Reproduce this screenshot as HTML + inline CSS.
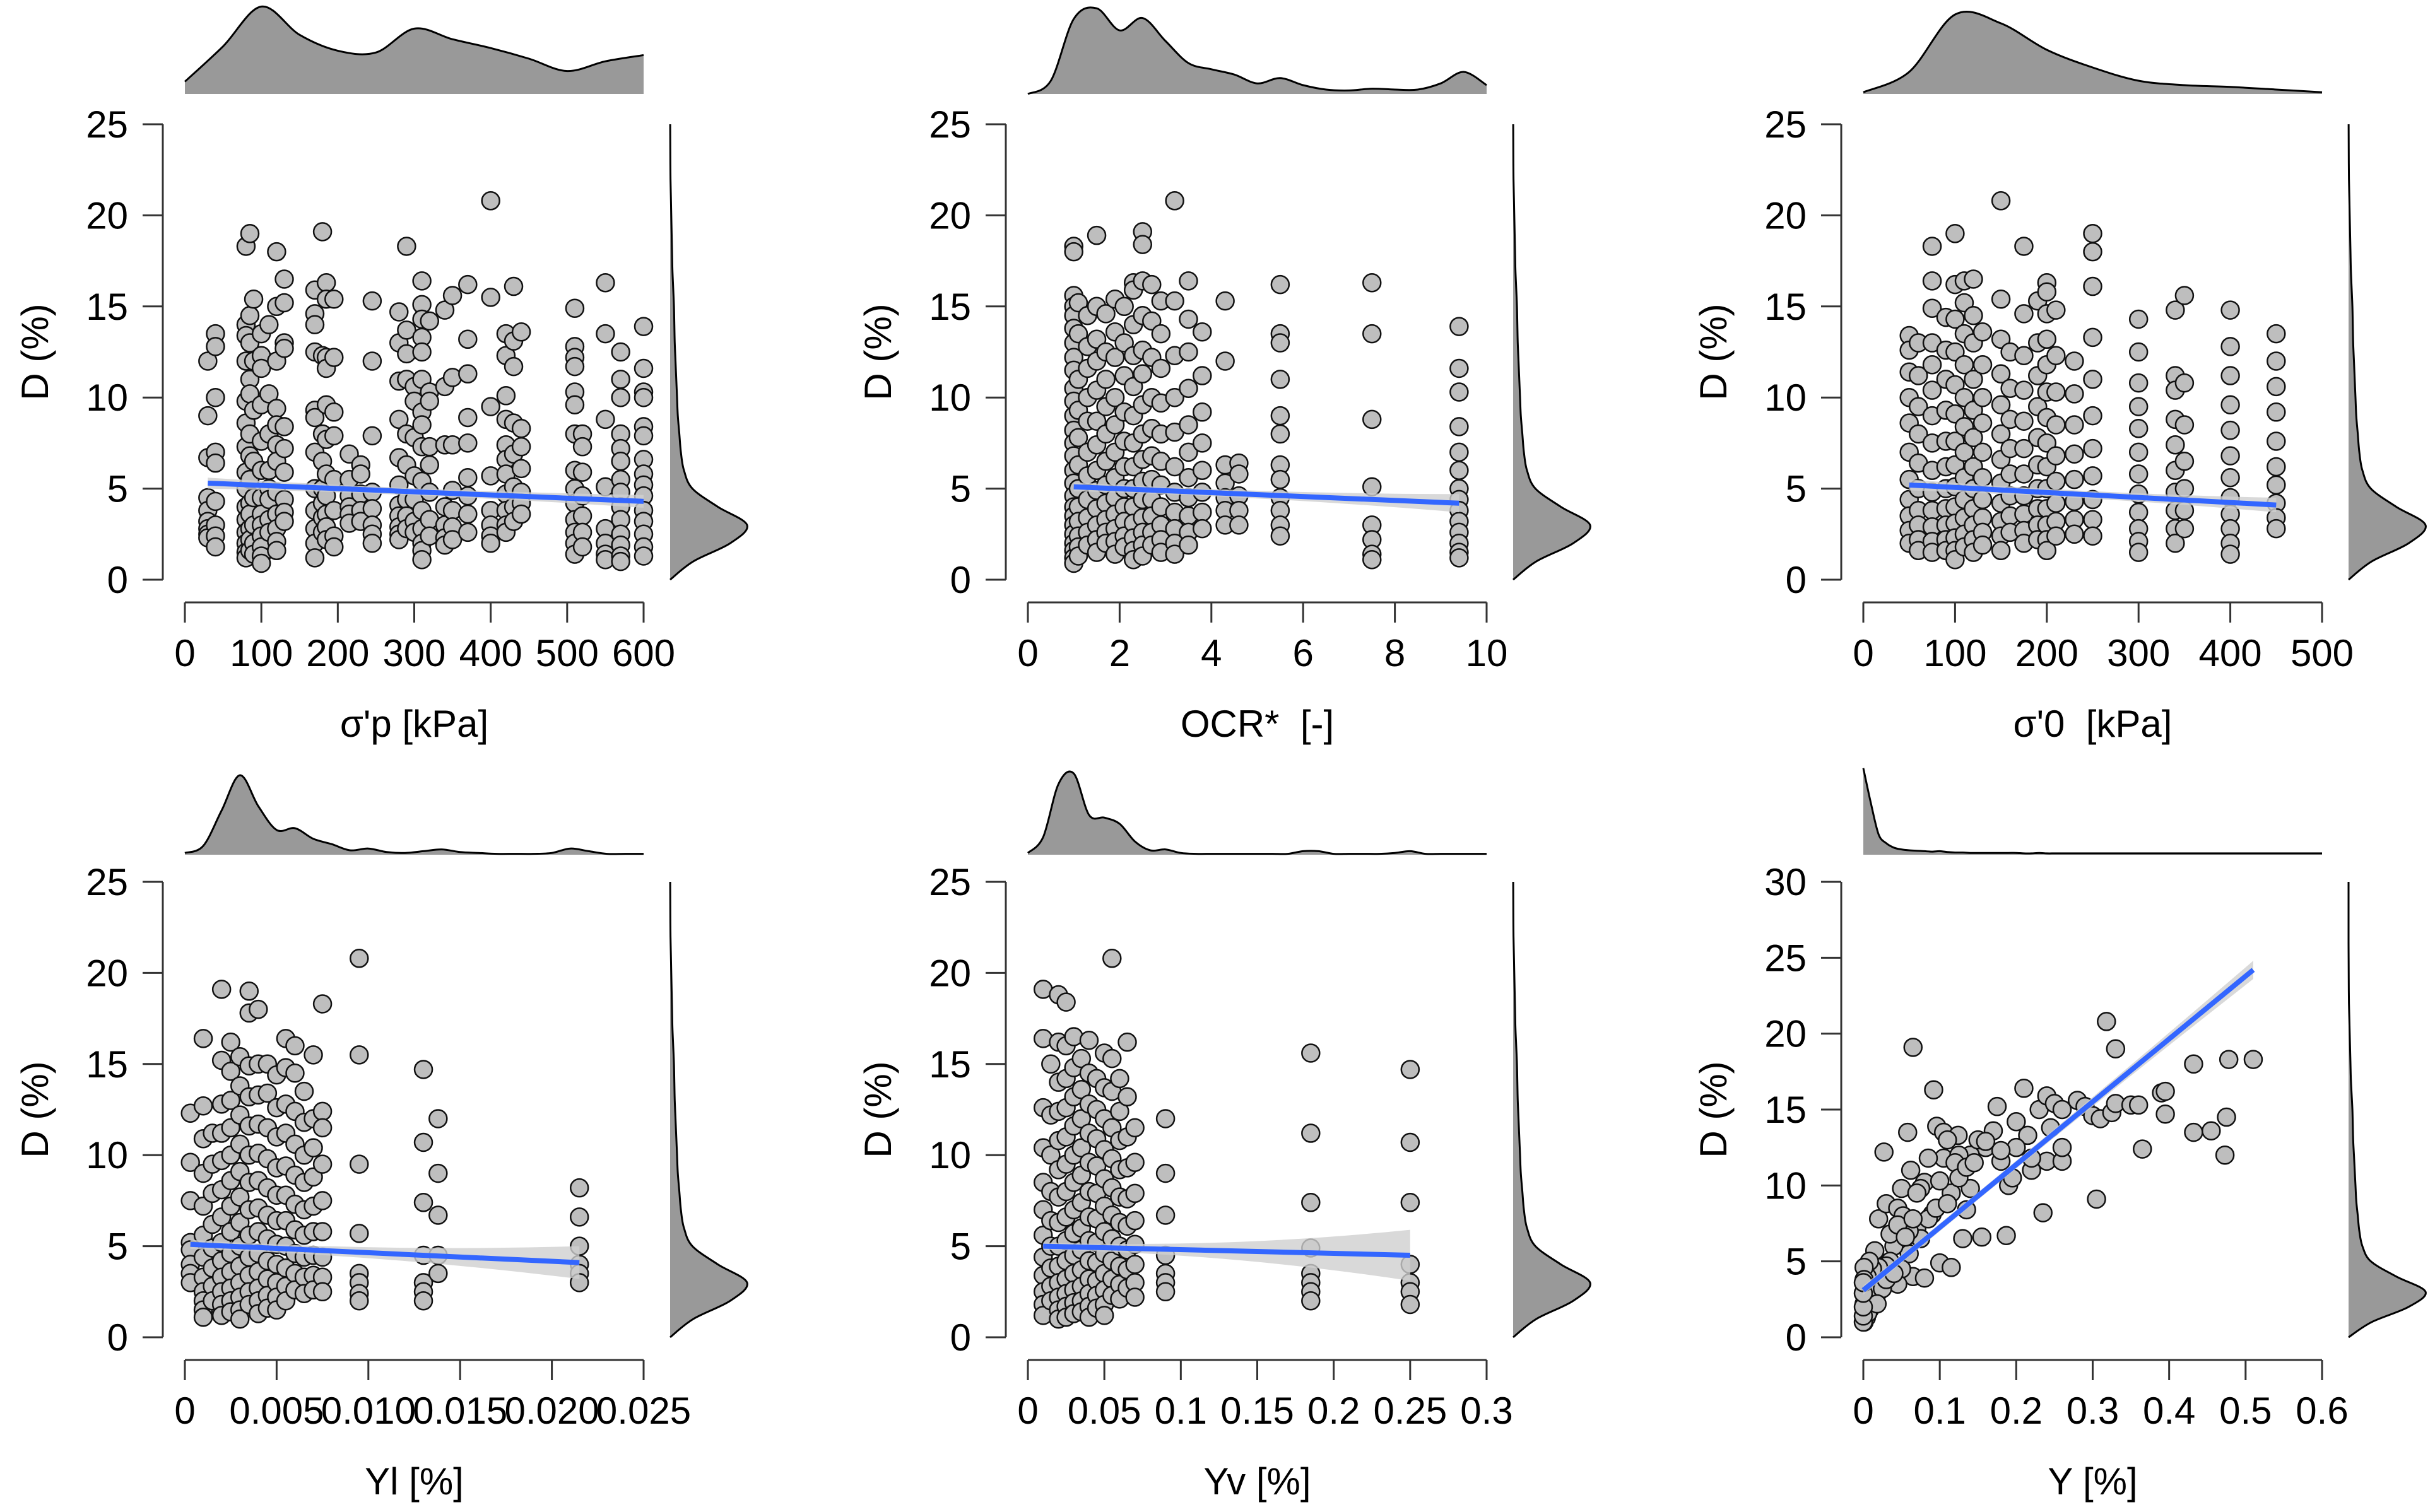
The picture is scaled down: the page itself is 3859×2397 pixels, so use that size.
<!DOCTYPE html>
<html><head><meta charset="utf-8"><title>Marginal density scatter plots</title>
<style>html,body{margin:0;padding:0;background:#fff;}svg{display:block;font-family:"Liberation Sans",Arial,sans-serif;}</style>
</head><body>
<svg id="chart" xmlns="http://www.w3.org/2000/svg" width="3859" height="2397" viewBox="0 0 3859 2397">
<rect width="3859" height="2397" fill="#fff"/>
</svg>
<script>
// ---------- DATA ----------
const p1X = [30,40,80,85,90,100,110,120,130,170,180,185,195,215,230,245,280,290,300,310,320,340,350,370,400,420,430,440,510,520,550,570,600];
const p1D = [[12,9,6.7,4.5,3.8,3.2,2.8,2.5,2.3],[13.5,12.8,10,7,6.4,4.3,3,2.4,1.8],[18.3,14,13.4,12,9.8,8.6,7.3,5.9,5,4,3.3,2.6,2,1.5,1.2],[19,14.5,13,11,10.2,8,6.8,5.5,4.2,3.6,2.8,2.2,1.6],[15.4,12,9.3,6.5,4.5,3,2,1.4],[13.5,12.3,11.6,9.6,7.6,6,4.5,3.6,3,2.4,1.8,1.3,0.9],[14,10.2,8,6,5,4.4,3.3,2.6],[18,15,12,9.4,8.5,7.4,6.5,4.8,3.6,2.8,2.1,1.6],[16.5,15.2,13,12.7,8.4,7.2,5.9,4.4,3.7,3.2],[15.9,14.6,14,12.5,9.3,8.9,7,5,3.8,2.8,2,1.2],[19.1,12.3,8,6.5,5,4.2,3.4,2.6],[16.3,15.4,12.2,11.6,9.6,7.7,5.8,4.6,3.6,2.9,2.2],[15.4,12.2,9.2,7.9,5.5,3.8,2.4,1.8],[6.9,5.5,4.6,4,3.6,3.1],[6.3,5.8,4.7,3.8,3.2],[15.3,12,7.9,4.8,3.9,3,2.5,2],[14.7,13,10.9,8.8,6.7,5.2,4.1,3.5,2.9,2.5,2.2],[18.3,13.7,12.4,11,8,6.3,4.4,3.5,2.8],[10.6,9.8,7.8,5.7,4.4,3.2,2.6],[16.4,15.1,14.3,13.3,12.5,11,9.2,8.5,7.3,5.4,3.8,2.8,2,1.6,1.1],[14.2,10.3,9.8,7.3,6.3,4.8,3.3,2.4],[14.8,10.6,7.4,4,3,2.3,1.9],[15.6,11.1,7.4,4.9,3.8,2.9,2.2],[16.2,13.2,11.3,8.9,7.5,5.6,4.6,3.6,2.6],[20.8,15.5,9.5,5.7,3.8,3,2.4,2],[13.5,12.3,10.1,8.8,7.4,6.6,5.8,4.7,3.8,3,2.6],[16.1,13.1,11.7,8.6,6.9,5.1,4,3.2],[13.6,8.3,7.3,6.1,4.8,4.2,3.6],[14.9,12.8,12.2,11.7,10.3,9.6,8,6,5,4.2,3.3,2.6,2,1.4],[8,7.3,5.9,4.6,3.5,2.6,1.8],[16.3,13.5,8.8,5.1,2.8,2,1.4,1.1],[12.5,11,10,8,7.2,6.5,5.5,4.8,4,3.3,2.5,1.9,1.3,1],[13.9,11.6,10.3,10,8.4,7.9,6.6,5.8,5.2,4.6,3.8,3.2,2.5,1.8,1.3]];

const p2X = [1.0,1.1,1.3,1.5,1.7,1.9,2.1,2.3,2.5,2.7,2.9,3.2,3.5,3.8,4.3,4.6,5.5,7.5,9.4];
const p2D = [[18.3,18,15.6,15,14.5,13.8,13,12.2,11.5,10.5,9.8,9,8.2,7.5,6.8,6,5.3,4.6,4,3.5,3,2.5,2,1.6,1.2,0.9],[15.2,13.5,11,9.3,7.8,6.3,5,4,3.2,2.4,1.8,1.3],[14.5,12.8,11.6,10,8.7,7,5.7,4.4,3.4,2.6,1.9],[18.9,15,13.2,12,10.4,8.7,7.4,6,4.9,3.9,3,2.2,1.5],[14.6,12.5,11,9.5,8,6.5,5.2,4.2,3.3,2.6,2],[15.4,13.6,12.2,10,8.5,7,5.6,4.5,3.6,2.8,2.1,1.4],[15,13,11.2,9.2,7.6,6.2,5,4,3.2,2.4,1.8],[16.3,15.9,14,12.3,10.6,9,7.5,6.2,5,4,3.1,2.3,1.6,1.1],[19.1,18.4,16.4,14.5,12.6,11.3,9.6,8,6.6,5.4,4.4,3.4,2.6,1.9,1.3],[16.2,14.2,12.2,10,8.3,6.8,5.5,4.4,3.5,2.6,1.9],[15.3,13.5,11.6,9.7,8,6.5,5.2,4,3,2.2,1.5],[20.8,15.3,12.3,10,8.1,6.2,4.8,3.7,2.8,2,1.4],[16.4,14.3,12.5,10.5,8.5,7,5.6,4.5,3.5,2.6,1.9],[13.6,11.2,9.2,7.5,6,4.8,3.7,2.8],[15.3,12,6.3,5.3,4.5,3.8,3],[6.4,5.8,4.6,3.8,3],[16.2,13.5,13,11,9,8,6.3,5.5,4.5,3.8,3,2.4],[16.3,13.5,8.8,5.1,3,2.2,1.4,1.1],[13.9,11.6,10.3,8.4,7,6,5,4.4,3.8,3.2,2.6,2,1.5,1.2]];

const p3X = [50,60,75,90,100,110,120,130,150,160,175,190,200,210,230,250,300,340,350,400,450];
const p3D = [[13.4,12.6,11.4,10,8.6,7,5.5,4.4,3.5,2.7,2],[13,11.2,9.5,8,6.4,5,3.8,3,2.2,1.6],[18.3,16.4,14.9,13,11.8,10.4,9,7.5,6,4.8,3.8,2.9,2.1,1.5],[14.4,12.6,11,9.3,7.6,6.2,5,3.9,3,2.2,1.6],[19,16.2,14.3,12.5,10.7,9.1,7.6,6.3,5.1,4,3.1,2.3,1.6,1.1],[16.4,15.2,13.5,11.8,10,8.4,7,5.6,4.4,3.4,2.5,1.8],[16.5,14.5,13,11,9.3,7.8,6.2,5,3.9,3,2.2,1.5],[13.6,11.8,10,8.6,7,5.6,4.4,3.4,2.6,1.9],[20.8,15.4,13.2,11.3,9.6,8,6.6,5.3,4.2,3.2,2.4,1.6],[12.5,10.5,8.8,7.2,5.8,4.6,3.5,2.6],[18.3,14.6,12.3,10.4,8.7,7.2,5.8,4.6,3.6,2.7,2],[15.3,13,11.2,9.5,7.8,6.3,5,3.9,3,2.2],[16.3,15.8,14.6,13.2,11.8,10.3,8.9,7.5,6.2,5,3.9,3,2.2,1.6],[14.8,12.3,10.3,8.5,6.8,5.4,4.2,3.2,2.4],[12,10.2,8.5,6.9,5.5,4.3,3.3,2.5],[19,18,16.1,13.3,11,9,7.2,5.7,4.4,3.3,2.4],[14.3,12.5,10.8,9.5,8.3,7,5.8,4.7,3.7,2.8,2.1,1.5],[14.8,11.2,10.4,8.8,7.4,6,4.8,3.8,2.8,2],[15.6,10.8,8.5,6.5,5,3.8,2.8],[14.8,12.8,11.2,9.6,8.2,6.8,5.6,4.5,3.6,2.8,2,1.4],[13.5,12,10.6,9.2,7.6,6.2,5.2,4.2,3.4,2.8]];

const p4X = [0.0003,0.001,0.0015,0.002,0.0025,0.003,0.0035,0.004,0.0045,0.005,0.0055,0.006,0.0065,0.007,0.0075,0.0095,0.013,0.0138,0.0215];
const p4D = [[12.3,9.6,7.5,5.2,4.8,4,3.5,3],[16.4,12.7,10.9,9,7.2,5.6,4.4,3.3,2.5,2,1.5,1.1],[11.2,9.5,7.9,6.2,4.9,3.8,2.8,2],[19.1,15.2,12.8,11.2,9.7,8.1,6.6,5.2,4.2,3.3,2.5,1.8,1.2],[16.2,14.6,13,11.5,10,8.6,7.2,5.8,4.6,3.6,2.7,2,1.4],[15.4,13.8,12.2,10.6,9.1,7.7,6.3,5,3.9,3,2.2,1.5,1],[19,17.8,14.9,13.2,11.6,10,8.5,7,5.6,4.4,3.4,2.5,1.8],[18,15,13.3,11.7,10.1,8.6,7.1,5.8,4.6,3.6,2.7,2,1.3],[15,13.4,11.5,9.8,8.2,6.7,5.4,4.2,3.2,2.3,1.6],[14.4,12.6,11,9.3,7.8,6.4,5.1,4,3,2.2,1.5],[16.4,14.8,12.8,11.2,9.4,7.8,6.4,5,3.8,2.8,2],[16,14.5,12.4,10.6,8.9,7.3,5.9,4.6,3.5,2.6],[13.5,11.8,10,8.5,7,5.6,4.4,3.3,2.4],[15.5,12,10.4,8.8,7.2,5.8,4.5,3.4,2.6],[18.3,12.4,11.5,9.5,7.5,5.8,4.4,3.3,2.5],[20.8,15.5,9.5,5.7,3.5,3,2.4,2],[14.7,10.7,7.4,4.5,3,2.5,2],[12,9,6.7,4.5,3.5],[8.2,6.6,5,4,3.5,3]];

const p5X = [0.01,0.015,0.02,0.025,0.03,0.035,0.04,0.045,0.05,0.055,0.06,0.065,0.07,0.09,0.185,0.25];
const p5D = [[19.1,16.4,12.6,10.4,8.5,7,5.6,4.4,3.4,2.5,1.8,1.2],[15,12.2,10,8,6.4,5,3.8,2.8,2],[18.8,16.2,14,12.4,10.8,9.2,7.7,6.3,5,3.9,3,2.2,1.5,1],[18.4,16,14.2,12.6,11,9.5,8,6.6,5.3,4.2,3.2,2.4,1.7,1.1],[16.5,14.8,13.2,11.6,10,8.5,7,5.7,4.5,3.5,2.6,1.9,1.3],[15.3,13.6,12,10.4,8.9,7.4,6,4.8,3.7,2.8,2,1.4],[16.3,14.5,12.8,11.2,9.6,8,6.6,5.3,4.2,3.2,2.4,1.7,1.1],[14.2,12.5,10.9,9.4,7.9,6.5,5.2,4.1,3.1,2.3,1.6],[15.6,13.7,12,10.3,8.7,7.2,5.8,4.6,3.5,2.6,1.8,1.2],[20.8,15.3,13.5,11.5,9.8,8.2,6.7,5.4,4.2,3.2,2.3],[14.2,12.4,10.8,9.2,7.7,6.3,5,3.9,2.9,2.1],[16.2,13.2,11,9.3,7.6,6.1,4.8,3.7,2.7],[11.5,9.6,7.9,6.4,5.1,4,3,2.2],[12,9,6.7,4.5,3.5,3,2.5],[15.6,11.2,7.4,4.9,3.5,3,2.5,2],[14.7,10.7,7.4,4,3,2.5,1.8]];

const p6X = [0.065,0.092,0.027,0.058,0.096,0.105,0.124,0.105,0.085,0.062,0.05,0.08,0.02,0.03,0.045,0.052,0.07,0.075,0.09,0.115,0.135,0.13,0.155,0.187,0.1,0.115,0.235,0.305,0.175,0.21,0.23,0.24,0.25,0.26,0.28,0.29,0.3,0.31,0.325,0.33,0.35,0.36,0.39,0.395,0.395,0.318,0.33,0.432,0.478,0.51,0.432,0.455,0.475,0.473,0.365,0.2,0.17,0.16,0.14,0.15,0.19,0.195,0.22,0.24,0.26,0.26,0.245,0.215,0.2,0.18,0.14,0.125,0.12,0.11,0.1,0.085,0.075,0.06,0.06,0.04,0.035,0.065,0.08,0.05,0.045,0.03,0.025,0.02,0.015,0.012,0.01,0.008,0.007,0.005,0.004,0.003,0.002,0.001,0.002,0.003,0.005,0.008,0.01,0.012,0.015,0.02,0.025,0.03,0.04,0.001,0.001,0.001,0.001,0.004,0.006,0.018,0.035,0.045,0.055,0.065,0.07,0.095,0.11,0.125,0.135,0.145,0.16,0.18,0.22,0.0,0.0,0.0,0.0,0.0];
const p6D = [19.1,16.3,12.2,13.5,13.9,13.5,13.3,11.8,11.8,11,9.8,10.2,7.8,8.8,8.5,8,7.2,9.8,8.1,9.5,8.4,6.5,6.6,6.7,4.9,4.6,8.2,9.1,15.2,16.4,15,15.9,15.4,15,15.6,15.2,14.6,14.4,14.8,15.4,15.3,15.3,16.1,16.2,14.7,20.8,19,18,18.3,18.3,13.5,13.6,14.5,12,12.4,14.2,13.6,12.5,12,13,10,10.5,11,11.6,11.6,12.5,13.8,13.3,12.5,11.6,9.8,12,11.5,13,10.3,7.8,6.5,7,5.5,6,5,4,3.9,4.5,3.5,4.7,3.5,4.6,5.7,4.5,3.5,5,3,4,2.5,1.8,1.2,1,3.5,2.8,2.2,1.8,2.4,3,2.6,3,3.2,3.8,4.2,4.6,3.8,2.2,1.5,1.3,1.6,2.2,6.8,7.4,6.6,7.8,9.5,8.5,8.8,10.5,11.2,11.5,12.9,12.3,11.8,1.0,1.4,2.0,2.9,3.6];

// top marginal density samples (fraction of max height), evenly spaced over each x range
const top1 = [0.14,0.54,0.99,0.67,0.49,0.47,0.74,0.62,0.52,0.4,0.26,0.37,0.44];
const top2 = [0.0,0.15,0.85,0.97,0.72,0.86,0.6,0.35,0.28,0.22,0.12,0.18,0.1,0.05,0.04,0.06,0.05,0.05,0.12,0.25,0.1];
const top3 = [0.02,0.25,0.9,0.8,0.5,0.3,0.15,0.1,0.08,0.05,0.02];
const top4 = [0.02,0.1,0.5,0.9,0.55,0.28,0.3,0.18,0.12,0.05,0.07,0.03,0.02,0.04,0.06,0.03,0.02,0.01,0.01,0.01,0.02,0.07,0.04,0.01,0.01,0.01];
const top5 = [0.02,0.2,0.8,0.92,0.45,0.42,0.35,0.15,0.05,0.06,0.02,0.01,0.01,0.01,0.01,0.01,0.01,0.01,0.04,0.04,0.01,0.01,0.01,0.01,0.02,0.04,0.01,0.01,0.01,0.01,0.01];
const top6 = [0.98,0.58,0.23,0.13,0.08,0.06,0.05,0.045,0.04,0.035,0.04,0.03,0.025,0.025,0.02,0.02,0.02,0.02,0.02,0.02,0.02,0.015,0.015,0.02,0.015,0.015,0.015,0.015,0.015,0.015,0.015,0.015,0.015,0.015,0.015,0.015,0.015,0.015,0.015,0.015,0.015,0.015,0.015,0.015,0.015,0.015,0.015,0.015,0.015,0.015,0.015,0.015,0.015,0.015,0.015,0.015,0.015,0.015,0.015,0.015,0.015];
// right marginal density of D (fraction of max width), D = 0,1,2,...
const rightD = [0.0,0.3,0.78,1.0,0.62,0.29,0.18,0.14,0.12,0.1,0.09,0.08,0.07,0.06,0.055,0.05,0.04,0.03,0.025,0.02,0.015,0.01,0.005,0.003,0.002,0.001];
const rightD6 = [0.0,0.3,0.78,1.0,0.62,0.29,0.18,0.14,0.12,0.1,0.09,0.08,0.07,0.06,0.055,0.05,0.04,0.03,0.025,0.02,0.015,0.01,0.005,0.003,0.002,0.001,0,0,0,0,0];

// regression fits: [xStart, dStart, xEnd, dEnd]; CI half widths [start, mid, end]
const fit1 = [30,5.3,600,4.3],  ci1 = [0.3,0.12,0.35];
const fit2 = [1,5.1,9.4,4.2],   ci2 = [0.25,0.12,0.5];
const fit3 = [50,5.2,450,4.1],  ci3 = [0.3,0.12,0.4];
const fit4 = [0.0003,5.1,0.0215,4.1], ci4 = [0.25,0.15,0.9];
const fit5 = [0.01,5.0,0.25,4.5], ci5 = [0.2,0.25,1.4];
const fit6 = [0,3.1,0.51,24.2], ci6 = [0.3,0.2,0.6];

const xTicks = [[0,100,200,300,400,500,600],[0,2,4,6,8,10],[0,100,200,300,400,500],[0,0.005,0.01,0.015,0.02,0.025],[0,0.05,0.1,0.15,0.2,0.25,0.3],[0,0.1,0.2,0.3,0.4,0.5,0.6]];
const xTickLabels = [["0","100","200","300","400","500","600"],["0","2","4","6","8","10"],["0","100","200","300","400","500"],["0","0.005","0.010","0.015","0.020","0.025"],["0","0.05","0.1","0.15","0.2","0.25","0.3"],["0","0.1","0.2","0.3","0.4","0.5","0.6"]];
const xTitles = ["σ'p [kPa]","OCR*\u00a0\u00a0[-]","σ'0\u00a0\u00a0[kPa]","Yl [%]","Yv [%]","Y [%]"];
const yTicksA = [0,5,10,15,20,25];
const yTicksB = [0,5,10,15,20,25,30];

// ---------- DRAWING ----------
const NS = "http://www.w3.org/2000/svg";
const svg = document.getElementById('chart');
function mk(tag, attrs, parent){ const e=document.createElementNS(NS,tag); for(const k in attrs) e.setAttribute(k,attrs[k]); (parent||svg).appendChild(e); return e; }

const colOff = [0,1336,2660];
const rows = [{yTop:197,y0:919,dens:149,axis:955},{yTop:1398,y0:2120,dens:1355,axis:2156}];
const panels = [
 {r:0,c:0,xmax:600,ymax:25,xs:p1X,ds:p1D,top:top1,right:rightD,fit:fit1,ci:ci1,name:'sigma-p'},
 {r:0,c:1,xmax:10,ymax:25,xs:p2X,ds:p2D,top:top2,right:rightD,fit:fit2,ci:ci2,name:'ocr'},
 {r:0,c:2,xmax:500,ymax:25,xs:p3X,ds:p3D,top:top3,right:rightD,fit:fit3,ci:ci3,name:'sigma-0'},
 {r:1,c:0,xmax:0.025,ymax:25,xs:p4X,ds:p4D,top:top4,right:rightD,fit:fit4,ci:ci4,name:'yl'},
 {r:1,c:1,xmax:0.3,ymax:25,xs:p5X,ds:p5D,top:top5,right:rightD,fit:fit5,ci:ci5,name:'yv'},
 {r:1,c:2,xmax:0.6,ymax:30,xs:null,ds:null,top:top6,right:rightD6,fit:fit6,ci:ci6,name:'y'}
];

function smoothPath(pts){
  let d = `M${pts[0][0]},${pts[0][1]}`;
  for(let i=0;i<pts.length-1;i++){
    const p0=pts[Math.max(0,i-1)],p1=pts[i],p2=pts[i+1],p3=pts[Math.min(pts.length-1,i+2)];
    const c1=[p1[0]+(p2[0]-p0[0])/6,p1[1]+(p2[1]-p0[1])/6];
    const c2=[p2[0]-(p3[0]-p1[0])/6,p2[1]-(p3[1]-p1[1])/6];
    d+=` C${c1[0]},${c1[1]} ${c2[0]},${c2[1]} ${p2[0]},${p2[1]}`;
  }
  return d;
}

panels.forEach((P,pi)=>{
  const R = rows[P.r], off = colOff[P.c];
  const X0 = 293+off, X1 = 1020+off;
  const sx = v => X0 + v/P.xmax*(X1-X0);
  const sy = v => R.y0 - v/P.ymax*(R.y0-R.yTop);
  const g = mk('g',{});
  
  

  // top density
  const tpts = P.top.map((h,i)=>[sx(i/(P.top.length-1)*P.xmax), R.dens - h*140]);
  const curve = smoothPath(tpts);
  const tf = mk('path',{d:curve+` L${X1},${R.dens} L${X0},${R.dens} Z`,fill:'#999'},g);
  
  
  const tl = mk('path',{d:curve,fill:'none',stroke:'#000','stroke-width':3},g);
  
  

  // right density
  const RB = 1062+off;
  const rpts = P.right.map((w,i)=>[RB + w*122, sy(i)]);
  const rcurve = smoothPath(rpts);
  const rf = mk('path',{d:rcurve+` L${RB},${rpts[rpts.length-1][1]} L${RB},${R.y0} Z`,fill:'#999'},g);
  
  
  const rl = mk('path',{d:rcurve,fill:'none',stroke:'#000','stroke-width':3},g);
  
  

  // y axis
  const yt = P.ymax===30 ? yTicksB : yTicksA;
  const ya = mk('line',{x1:258+off,x2:258+off,y1:sy(yt[yt.length-1]),y2:sy(0),stroke:'#333','stroke-width':3},g);
  
  
  yt.forEach(v=>{
    mk('line',{x1:226+off,x2:258+off,y1:sy(v),y2:sy(v),stroke:'#333','stroke-width':3},g);
    const t = mk('text',{x:203+off,y:sy(v)+21,'font-size':60,'text-anchor':'end',fill:'#000'},g);
    t.textContent = v;
    
    
  });
  const ytl = mk('text',{x:0,y:0,'font-size':60,'text-anchor':'middle',fill:'#000',transform:`translate(${76+off},${(R.y0+R.yTop)/2}) rotate(-90)`},g);
  ytl.textContent = 'D (%)';
  
  

  // x axis
  const xt = xTicks[pi];
  const xa = mk('line',{x1:sx(xt[0]),x2:sx(xt[xt.length-1]),y1:R.axis,y2:R.axis,stroke:'#333','stroke-width':3},g);
  
  
  xt.forEach((v,i)=>{
    mk('line',{x1:sx(v),x2:sx(v),y1:R.axis,y2:R.axis+32,stroke:'#333','stroke-width':3},g);
    const t = mk('text',{x:sx(v),y:R.axis+101,'font-size':60,'text-anchor':'middle',fill:'#000'},g);
    t.textContent = xTickLabels[pi][i];
    
    
  });
  const xtl = mk('text',{x:(X0+X1)/2,y:R.axis+213,'font-size':60,'text-anchor':'middle',fill:'#000'},g);
  xtl.textContent = xTitles[pi];
  
  

  // points
  const pg = mk('g',{fill:'#bebebe',stroke:'#111','stroke-width':2.5},g);
  
  
  if(P.xs){
    P.xs.forEach((x,i)=>{
      P.ds[i].forEach(d=>{
        const c = mk('circle',{cx:sx(x),cy:sy(d),r:14},pg);
        
        
      });
    });
  } else {
    p6X.forEach((x,i)=>{
      const c = mk('circle',{cx:sx(x),cy:sy(p6D[i]),r:14},pg);
      
      
    });
  }

  // CI band and regression line
  const f = P.fit, ci = P.ci;
  const xm = (f[0]+f[2])/2, dm = (f[1]+f[3])/2;
  const band = mk('path',{d:`M${sx(f[0])},${sy(f[1]+ci[0])} Q${sx(xm)},${sy(dm+ci[1]*0.5)} ${sx(f[2])},${sy(f[3]+ci[2])} L${sx(f[2])},${sy(f[3]-ci[2])} Q${sx(xm)},${sy(dm-ci[1]*0.5)} ${sx(f[0])},${sy(f[1]-ci[0])} Z`,fill:'#d0d0d0','fill-opacity':0.8},g);
  
  
  const rline = mk('line',{x1:sx(f[0]),y1:sy(f[1]),x2:sx(f[2]),y2:sy(f[3]),stroke:'#3366ff','stroke-width':8},g);
  
  
});
</script>
</body></html>
